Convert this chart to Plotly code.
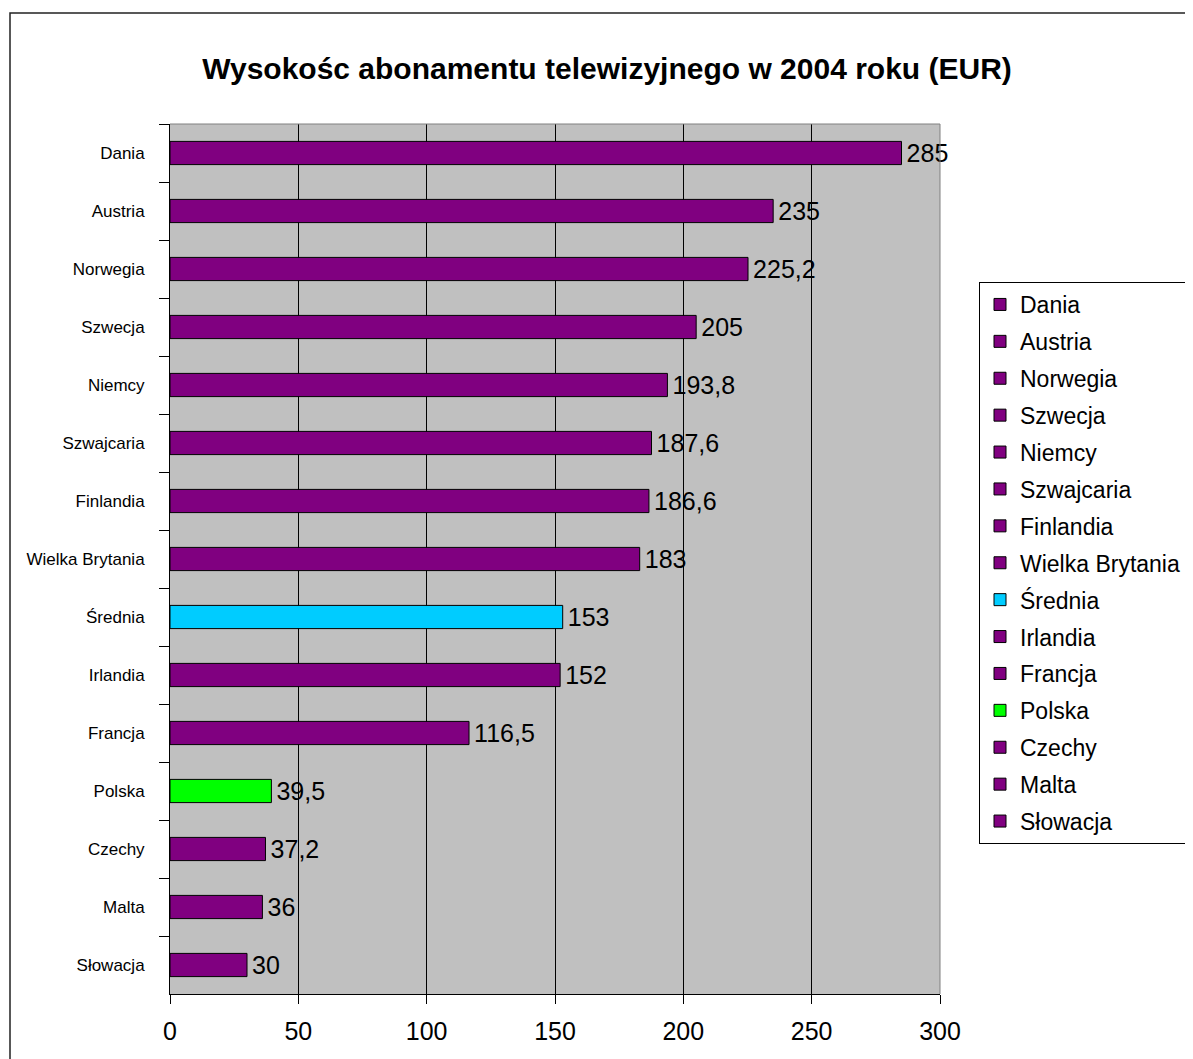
import plotly.graph_objects as go

countries = ["Dania", "Austria", "Norwegia", "Szwecja", "Niemcy", "Szwajcaria", "Finlandia",
             "Wielka Brytania", "Średnia", "Irlandia", "Francja", "Polska", "Czechy", "Malta", "Słowacja"]
values = [285, 235, 225.2, 205, 193.8, 187.6, 186.6, 183, 153, 152, 116.5, 39.5, 37.2, 36, 30]
labels = ["285", "235", "225,2", "205", "193,8", "187,6", "186,6", "183", "153", "152", "116,5",
          "39,5", "37,2", "36", "30"]
x_ticks = [0, 50, 100, 150, 200, 250, 300]

PURPLE = "#800080"
special = {"Średnia": "#00CCFF", "Polska": "#00FF00"}

FONT = "Liberation Sans, Arial, sans-serif"

fig = go.Figure()
for c, v, t in zip(countries, values, labels):
    fig.add_trace(go.Bar(
        y=[c], x=[v], orientation="h", name=c, legendgroup=c,
        marker=dict(color=special.get(c, PURPLE), line=dict(color="#000000", width=1)),
        text=["\u200a" + t], textposition="outside", cliponaxis=False, constraintext="none",
        textfont=dict(size=25, color="#000000", family=FONT),
        hoverinfo="x+y",
    ))

# page body has an 8px margin; work in page coordinates then shift
OFF = 8
W, H = 1193 - OFF, 1059 - OFF
L, R, T, B = 170 - OFF, 940 - OFF, 124 - OFF, 994 - OFF

fig.update_layout(
    width=W, height=H,
    margin=dict(l=L, r=W - R, t=T, b=H - B, autoexpand=False),
    paper_bgcolor="white", plot_bgcolor="#C0C0C0",
    barmode="overlay", bargap=0.6,
    font=dict(family=FONT, color="#000000"),
    title=dict(text="<b>Wysokośc abonamentu telewizyjnego w 2004 roku (EUR)</b>",
               x=(607 - OFF) / W, xanchor="center", y=1 - (68 - OFF) / H, yanchor="middle",
               font=dict(size=30, family=FONT, color="#000000")),
    legend=dict(x=(979 - OFF - L) / (R - L), xanchor="left",
                y=(B - (282 - OFF)) / (B - T), yanchor="top",
                bgcolor="white", bordercolor="#000000", borderwidth=1,
                font=dict(size=23, family=FONT, color="#000000"),
                traceorder="grouped", tracegroupgap=4),
    showlegend=True,
)

fig.update_xaxes(range=[0, 300], tickvals=x_ticks, ticktext=[str(v) for v in x_ticks],
                 showgrid=True, gridcolor="#000000", gridwidth=1, zeroline=False,
                 showline=True, linecolor="#000000", linewidth=1,
                 ticks="outside", ticklen=9, tickcolor="#000000", ticklabelstandoff=6,
                 tickfont=dict(size=25, family=FONT, color="#000000"), fixedrange=True)
fig.update_yaxes(categoryorder="array", categoryarray=countries, autorange="reversed",
                 showgrid=False, zeroline=False,
                 showline=True, linecolor="#000000", linewidth=1,
                 ticks="outside", ticklen=10, tickcolor="#000000", tickson="boundaries",
                 ticklabelstandoff=21,
                 tickfont=dict(size=17, family=FONT, color="#000000"), fixedrange=True)

# plot-area border (top and right) in gray
fig.add_shape(type="line", xref="paper", yref="paper", x0=0, x1=1, y0=1, y1=1,
              line=dict(color="#808080", width=1))
fig.add_shape(type="line", xref="paper", yref="paper", x0=1, x1=1, y0=0, y1=1,
              line=dict(color="#808080", width=1))
# outer chart frame
fig.add_shape(type="rect", xref="paper", yref="paper",
              x0=(10 - OFF - L) / (R - L), x1=1.5, y0=-0.5, y1=(B - (13 - OFF)) / (B - T),
              line=dict(color="#222222", width=1.5), fillcolor="rgba(0,0,0,0)")

fig.write_html("out.html")
